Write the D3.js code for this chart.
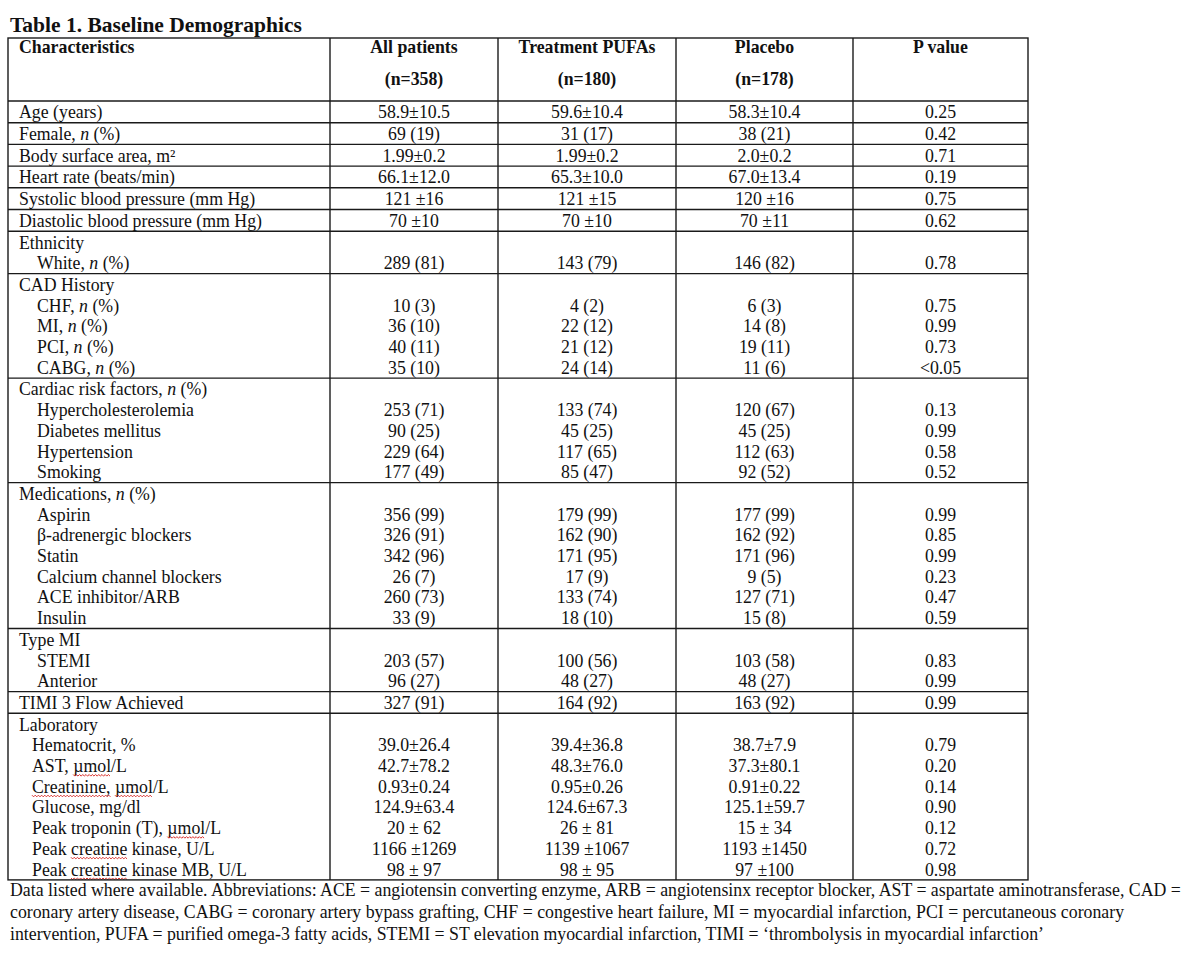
<!DOCTYPE html>
<html>
<head>
<meta charset="utf-8">
<script src="https://cdn.jsdelivr.net/npm/d3@7"></script>
<style>
  body { margin: 0; background: #fff; }
  svg { display: block; }
  text { font-family: "Liberation Serif", "Times New Roman", serif; fill: #111; }
</style>
</head>
<body>
<div id="chart"></div>
<script>
// table content
var title = "Table 1. Baseline Demographics";
var columnNames = ["Characteristics", "All patients", "Treatment PUFAs", "Placebo", "P value"];
var columnN = ["", "(n=358)", "(n=180)", "(n=178)", ""];

// group headings (*x* = italic, ~x~ = spell-check squiggle)
var groupHeads = ["Ethnicity", "CAD History", "Cardiac risk factors, *n* (%)",
                  "Medications, *n* (%)", "Type MI", "Laboratory"];

var characteristics = [
  "Age (years)", "Female, *n* (%)", "Body surface area, m\u00b2", "Heart rate (beats/min)",
  "Systolic blood pressure (mm Hg)", "Diastolic blood pressure (mm Hg)",
  "White, *n* (%)",
  "CHF, *n* (%)", "MI, *n* (%)", "PCI, *n* (%)", "CABG, *n* (%)",
  "Hypercholesterolemia", "Diabetes mellitus", "Hypertension", "Smoking",
  "Aspirin", "\u03b2-adrenergic blockers", "Statin", "Calcium channel blockers", "ACE inhibitor/ARB", "Insulin",
  "STEMI", "Anterior",
  "TIMI 3 Flow Achieved",
  "Hematocrit, %", "AST, ~\u00b5mol~/L", "~Creatinine,~ ~\u00b5mol~/L", "Glucose, mg/dl",
  "Peak troponin (T), ~\u00b5mol~/L", "Peak ~creatine~ kinase, U/L", "Peak ~creatine~ kinase MB, U/L"
];
// -1 = stand-alone row, otherwise index into groupHeads
var rowGroup = [-1, -1, -1, -1, -1, -1, 0, 1, 1, 1, 1, 2, 2, 2, 2,
                3, 3, 3, 3, 3, 3, 4, 4, -1, 5, 5, 5, 5, 5, 5, 5];

var allPatients = ["58.9\u00b110.5", "69 (19)", "1.99\u00b10.2", "66.1\u00b112.0", "121 \u00b116", "70 \u00b110",
  "289 (81)", "10 (3)", "36 (10)", "40 (11)", "35 (10)",
  "253 (71)", "90 (25)", "229 (64)", "177 (49)",
  "356 (99)", "326 (91)", "342 (96)", "26 (7)", "260 (73)", "33 (9)",
  "203 (57)", "96 (27)", "327 (91)",
  "39.0\u00b126.4", "42.7\u00b178.2", "0.93\u00b10.24", "124.9\u00b163.4", "20 \u00b1 62", "1166 \u00b11269", "98 \u00b1 97"];
var treatmentPUFAs = ["59.6\u00b110.4", "31 (17)", "1.99\u00b10.2", "65.3\u00b110.0", "121 \u00b115", "70 \u00b110",
  "143 (79)", "4 (2)", "22 (12)", "21 (12)", "24 (14)",
  "133 (74)", "45 (25)", "117 (65)", "85 (47)",
  "179 (99)", "162 (90)", "171 (95)", "17 (9)", "133 (74)", "18 (10)",
  "100 (56)", "48 (27)", "164 (92)",
  "39.4\u00b136.8", "48.3\u00b176.0", "0.95\u00b10.26", "124.6\u00b167.3", "26 \u00b1 81", "1139 \u00b11067", "98 \u00b1 95"];
var placebo = ["58.3\u00b110.4", "38 (21)", "2.0\u00b10.2", "67.0\u00b113.4", "120 \u00b116", "70 \u00b111",
  "146 (82)", "6 (3)", "14 (8)", "19 (11)", "11 (6)",
  "120 (67)", "45 (25)", "112 (63)", "92 (52)",
  "177 (99)", "162 (92)", "171 (96)", "9 (5)", "127 (71)", "15 (8)",
  "103 (58)", "48 (27)", "163 (92)",
  "38.7\u00b17.9", "37.3\u00b180.1", "0.91\u00b10.22", "125.1\u00b159.7", "15 \u00b1 34", "1193 \u00b11450", "97 \u00b1100"];
var pValues = ["0.25", "0.42", "0.71", "0.19", "0.75", "0.62",
  "0.78", "0.75", "0.99", "0.73", "<0.05",
  "0.13", "0.99", "0.58", "0.52",
  "0.99", "0.85", "0.99", "0.23", "0.47", "0.59",
  "0.83", "0.99", "0.99",
  "0.79", "0.20", "0.14", "0.90", "0.12", "0.72", "0.98"];

var footnotes = [
  "Data listed where available. Abbreviations: ACE = angiotensin converting enzyme, ARB = angiotensinx receptor blocker, AST = aspartate aminotransferase, CAD =",
  "coronary artery disease, CABG = coronary artery bypass grafting, CHF = congestive heart failure, MI = myocardial infarction, PCI = percutaneous coronary",
  "intervention, PUFA = purified omega-3 fatty acids, STEMI = ST elevation myocardial infarction, TIMI = \u2018thrombolysis in myocardial infarction\u2019"
];

// layout
var W = 1200, H = 953;
var colEdges = [8, 330, 498, 676, 853, 1028];
var tableTop = 38, headBottom = 101;
var lineH = 20.7, rowPad = 1, baseOff = 17.3;
var fontSize = 17.8;
var subIndent = [37, 37, 37, 37, 37, 32];

var svg = d3.select("#chart").append("svg")
    .attr("width", W)
    .attr("height", H);

svg.append("rect").attr("width", W).attr("height", H).attr("fill", "#fff");

// title
svg.append("text")
    .attr("x", 10).attr("y", 32)
    .style("font-size", "21.5px").style("font-weight", "bold")
    .text(title);

// build table rows (one row per stand-alone item or per group)
var rows = [];
characteristics.forEach(function(label, i) {
  var g = rowGroup[i];
  var last = rows[rows.length - 1];
  if (g < 0) {
    rows.push({ lines: [{ label: label, x: 19, idx: i }] });
  } else {
    if (!last || last.group !== g) {
      last = { group: g, lines: [{ label: groupHeads[g], x: 19, idx: null }] };
      rows.push(last);
    }
    last.lines.push({ label: label, x: subIndent[g], idx: i });
  }
});

var y = headBottom;
rows.forEach(function(r) {
  r.top = y;
  r.height = r.lines.length * lineH + rowPad;
  y += r.height;
});
var tableBottom = y;

var colCenter = function(c) { return (colEdges[c] + colEdges[c + 1]) / 2; };
var valueCols = [allPatients, treatmentPUFAs, placebo, pValues];

// header
var head = svg.append("g").style("font-weight", "bold").style("font-size", fontSize + "px");
head.selectAll("text.name")
  .data(columnNames)
  .enter().append("text")
    .attr("class", "name")
    .attr("x", function(d, i) { return i === 0 ? 19 : colCenter(i); })
    .attr("y", 53)
    .attr("text-anchor", function(d, i) { return i === 0 ? "start" : "middle"; })
    .text(function(d) { return d; });
head.selectAll("text.n")
  .data(columnN)
  .enter().append("text")
    .attr("class", "n")
    .attr("x", function(d, i) { return colCenter(i); })
    .attr("y", 85)
    .attr("text-anchor", "middle")
    .text(function(d) { return d; });

// body lines
var body = svg.append("g").style("font-size", fontSize + "px");
var squiggles = [];

rows.forEach(function(r) {
  r.lines.forEach(function(ln, k) {
    var by = r.top + baseOff + k * lineH;
    var t = body.append("text").attr("x", ln.x).attr("y", by);
    ln.label.split(/(\*[^*]+\*|~[^~]+~)/).forEach(function(part) {
      if (!part) return;
      if (part[0] === "*") {
        t.append("tspan").style("font-style", "italic").text(part.slice(1, -1));
      } else if (part[0] === "~") {
        var sp = t.append("tspan").text(part.slice(1, -1));
        squiggles.push({ node: sp.node(), y: by });
      } else {
        t.append("tspan").text(part);
      }
    });
    if (ln.idx !== null) {
      valueCols.forEach(function(arr, c) {
        body.append("text")
          .attr("x", colCenter(c + 1))
          .attr("y", by)
          .attr("text-anchor", "middle")
          .text(arr[ln.idx]);
      });
    }
  });
});

// red wavy spell-check underlines
squiggles.forEach(function(s) {
  var x0 = s.node.getStartPositionOfChar(0).x;
  var len = s.node.getComputedTextLength();
  var yy = s.y + 3;
  var pts = [];
  for (var x = 0; x <= len; x += 1.6) {
    pts.push([x0 + x, yy + (Math.round(x / 1.6) % 2 ? 1.1 : -0.5)]);
  }
  svg.append("path")
    .attr("d", d3.line()(pts))
    .attr("fill", "none")
    .attr("stroke", "#d9302c")
    .attr("stroke-width", 1);
});

// grid lines
var grid = svg.append("g").attr("stroke", "#1a1a1a").attr("stroke-width", 1.4).attr("fill", "none");
grid.append("rect")
    .attr("x", colEdges[0]).attr("y", tableTop)
    .attr("width", colEdges[5] - colEdges[0]).attr("height", tableBottom - tableTop);
grid.selectAll("line.v")
  .data(colEdges.slice(1, 5))
  .enter().append("line")
    .attr("x1", function(d) { return d; }).attr("x2", function(d) { return d; })
    .attr("y1", tableTop).attr("y2", tableBottom);
var hLines = [headBottom].concat(rows.slice(1).map(function(r) { return r.top; }));
grid.selectAll("line.h")
  .data(hLines)
  .enter().append("line")
    .attr("x1", colEdges[0]).attr("x2", colEdges[5])
    .attr("y1", function(d) { return d; }).attr("y2", function(d) { return d; });

// footnote
svg.append("g").style("font-size", "17.8px")
  .selectAll("text")
  .data(footnotes)
  .enter().append("text")
    .attr("x", 10)
    .attr("y", function(d, i) { return tableBottom + 16 + i * 22; })
    .text(function(d) { return d; });
</script>
</body>
</html>
